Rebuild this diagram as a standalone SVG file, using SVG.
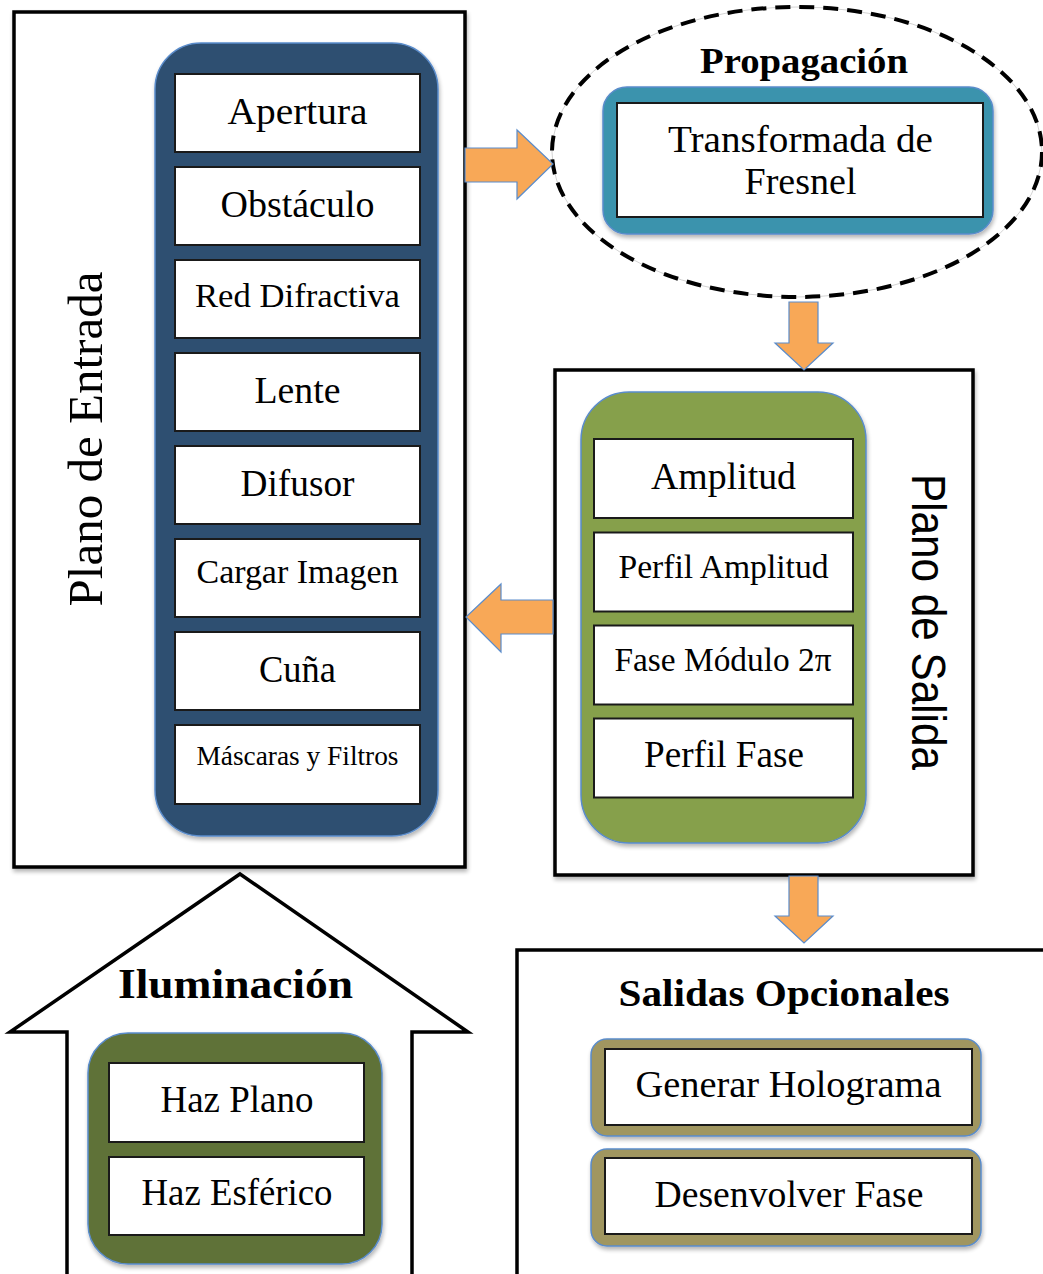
<svg xmlns="http://www.w3.org/2000/svg" width="1043" height="1274" viewBox="0 0 1043 1274">
<defs>
<filter id="sh" x="-10%" y="-10%" width="125%" height="125%">
<feGaussianBlur in="SourceAlpha" stdDeviation="2"/>
<feOffset dx="1" dy="3" result="o"/>
<feComponentTransfer><feFuncA type="linear" slope="0.3"/></feComponentTransfer>
<feMerge><feMergeNode/><feMergeNode in="SourceGraphic"/></feMerge>
</filter>
<style>
.frame{fill:#fff;stroke:#000;stroke-width:3.5}
.item{fill:#fff;stroke:#1a1a1a;stroke-width:2}
.pill{stroke:#5a8ccb;stroke-width:1.5}
.arrow{fill:#f8a857;stroke:#5a8ccb;stroke-width:1.2}
.t{font-family:"Liberation Serif","Times New Roman",serif;fill:#000;text-anchor:middle}
.b{font-family:"Liberation Serif","Times New Roman",serif;font-weight:bold;fill:#000;text-anchor:middle}
.s{font-family:"Liberation Sans",Arial,sans-serif;fill:#000;text-anchor:middle}
</style>
</defs>
<rect width="1043" height="1274" fill="#fff"/>

<g id="plano-entrada">
<rect class="frame" x="14" y="12" width="451" height="855" filter="url(#sh)"/>
<text class="t" font-size="49" textLength="335" lengthAdjust="spacingAndGlyphs" transform="translate(102,439) rotate(-90)">Plano de Entrada</text>
<rect class="pill" x="155" y="43" width="283" height="793" rx="46" fill="#2f4f71" filter="url(#sh)"/>
<rect class="item" x="175" y="74" width="245" height="78"/>
<text class="t" x="297.5" y="124" font-size="37" textLength="140" lengthAdjust="spacingAndGlyphs">Apertura</text>
<rect class="item" x="175" y="167" width="245" height="78"/>
<text class="t" x="297.5" y="217" font-size="37" textLength="154" lengthAdjust="spacingAndGlyphs">Obstáculo</text>
<rect class="item" x="175" y="260" width="245" height="78"/>
<text class="t" x="297.5" y="307" font-size="34" textLength="205" lengthAdjust="spacingAndGlyphs">Red Difractiva</text>
<rect class="item" x="175" y="353" width="245" height="78"/>
<text class="t" x="297.5" y="403" font-size="37" textLength="86" lengthAdjust="spacingAndGlyphs">Lente</text>
<rect class="item" x="175" y="446" width="245" height="78"/>
<text class="t" x="297.5" y="496" font-size="37" textLength="114" lengthAdjust="spacingAndGlyphs">Difusor</text>
<rect class="item" x="175" y="539" width="245" height="78"/>
<text class="t" x="297.5" y="583" font-size="33" textLength="202" lengthAdjust="spacingAndGlyphs">Cargar Imagen</text>
<rect class="item" x="175" y="632" width="245" height="78"/>
<text class="t" x="297.5" y="682" font-size="37" textLength="77" lengthAdjust="spacingAndGlyphs">Cuña</text>
<rect class="item" x="175" y="725" width="245" height="79"/>
<text class="t" x="297.5" y="765" font-size="27" textLength="202" lengthAdjust="spacingAndGlyphs">Máscaras y Filtros</text>
</g>

<g id="propagacion">
<ellipse cx="797" cy="152" rx="245" ry="145" fill="#fff" stroke="#c8c8c8" stroke-width="0.8"/>
<ellipse cx="797" cy="152" rx="245" ry="145" fill="none" stroke="#000" stroke-width="4" stroke-dasharray="15 9"/>
<text class="b" x="804" y="73" font-size="36" textLength="208" lengthAdjust="spacingAndGlyphs">Propagación</text>
<rect class="pill" x="603" y="87" width="390" height="147" rx="24" fill="#3a93ad" filter="url(#sh)"/>
<rect class="item" x="617" y="103" width="366" height="114"/>
<text class="t" x="800.5" y="152" font-size="38" textLength="265" lengthAdjust="spacingAndGlyphs">Transformada de</text>
<text class="t" x="800.5" y="194" font-size="38" textLength="112" lengthAdjust="spacingAndGlyphs">Fresnel</text>
</g>

<g id="plano-salida">
<rect class="frame" x="555" y="370" width="418" height="505" filter="url(#sh)"/>
<rect class="pill" x="581" y="392" width="285" height="451" rx="48" fill="#86a04c" filter="url(#sh)"/>
<rect class="item" x="594" y="439" width="259" height="79"/>
<text class="t" x="723.5" y="489" font-size="37" textLength="145" lengthAdjust="spacingAndGlyphs">Amplitud</text>
<rect class="item" x="594" y="532.5" width="259" height="79"/>
<text class="t" x="723.5" y="578" font-size="33" textLength="210" lengthAdjust="spacingAndGlyphs">Perfil Amplitud</text>
<rect class="item" x="594" y="625.5" width="259" height="79"/>
<text class="t" x="723" y="671" font-size="33" textLength="217" lengthAdjust="spacingAndGlyphs">Fase Módulo 2π</text>
<rect class="item" x="594" y="718.5" width="259" height="79"/>
<text class="t" x="724" y="767" font-size="37" textLength="160" lengthAdjust="spacingAndGlyphs">Perfil Fase</text>
<text class="s" font-size="49" textLength="296" lengthAdjust="spacingAndGlyphs" transform="translate(912,622) rotate(90)">Plano de Salida</text>
</g>

<g id="iluminacion">
<path class="frame" d="M240,874 L468,1032 L412,1032 L412,1290 L67,1290 L67,1032 L10,1032 Z" stroke-linejoin="miter"/>
<text class="b" x="235.5" y="998" font-size="42" textLength="235" lengthAdjust="spacingAndGlyphs">Iluminación</text>
<rect class="pill" x="88" y="1033" width="294" height="231" rx="40" fill="#5f7238" filter="url(#sh)"/>
<rect class="item" x="109" y="1063" width="255" height="79"/>
<text class="t" x="237" y="1112" font-size="37" textLength="153" lengthAdjust="spacingAndGlyphs">Haz Plano</text>
<rect class="item" x="109" y="1157" width="255" height="78"/>
<text class="t" x="237" y="1205" font-size="37" textLength="191" lengthAdjust="spacingAndGlyphs">Haz Esférico</text>
</g>

<g id="salidas-opcionales">
<rect class="frame" x="517" y="950" width="560" height="360"/>
<text class="b" x="784" y="1006" font-size="38" textLength="331" lengthAdjust="spacingAndGlyphs">Salidas Opcionales</text>
<rect class="pill" x="591" y="1039" width="390" height="97" rx="16" fill="#a09660" stroke-width="2" filter="url(#sh)"/>
<rect class="item" x="605" y="1049" width="367" height="76"/>
<text class="t" x="788.5" y="1097" font-size="37" textLength="306" lengthAdjust="spacingAndGlyphs">Generar Holograma</text>
<rect class="pill" x="591" y="1149" width="390" height="97" rx="16" fill="#a09660" stroke-width="2" filter="url(#sh)"/>
<rect class="item" x="605" y="1158" width="367" height="76"/>
<text class="t" x="789" y="1207" font-size="37" textLength="269" lengthAdjust="spacingAndGlyphs">Desenvolver Fase</text>
</g>

<g id="connectors">
<path class="arrow" d="M465,148 L517,148 L517,130 L553,164 L517,199 L517,182 L465,182 Z"/>
<path class="arrow" d="M789,302 L818,302 L818,343 L833,343 L804,370 L775,343 L789,343 Z"/>
<path class="arrow" d="M553,600 L501,600 L501,584 L466,617 L501,652 L501,634 L553,634 Z"/>
<path class="arrow" d="M789,876 L818,876 L818,916 L833,916 L804,943 L775,916 L789,916 Z"/>
</g>
</svg>
